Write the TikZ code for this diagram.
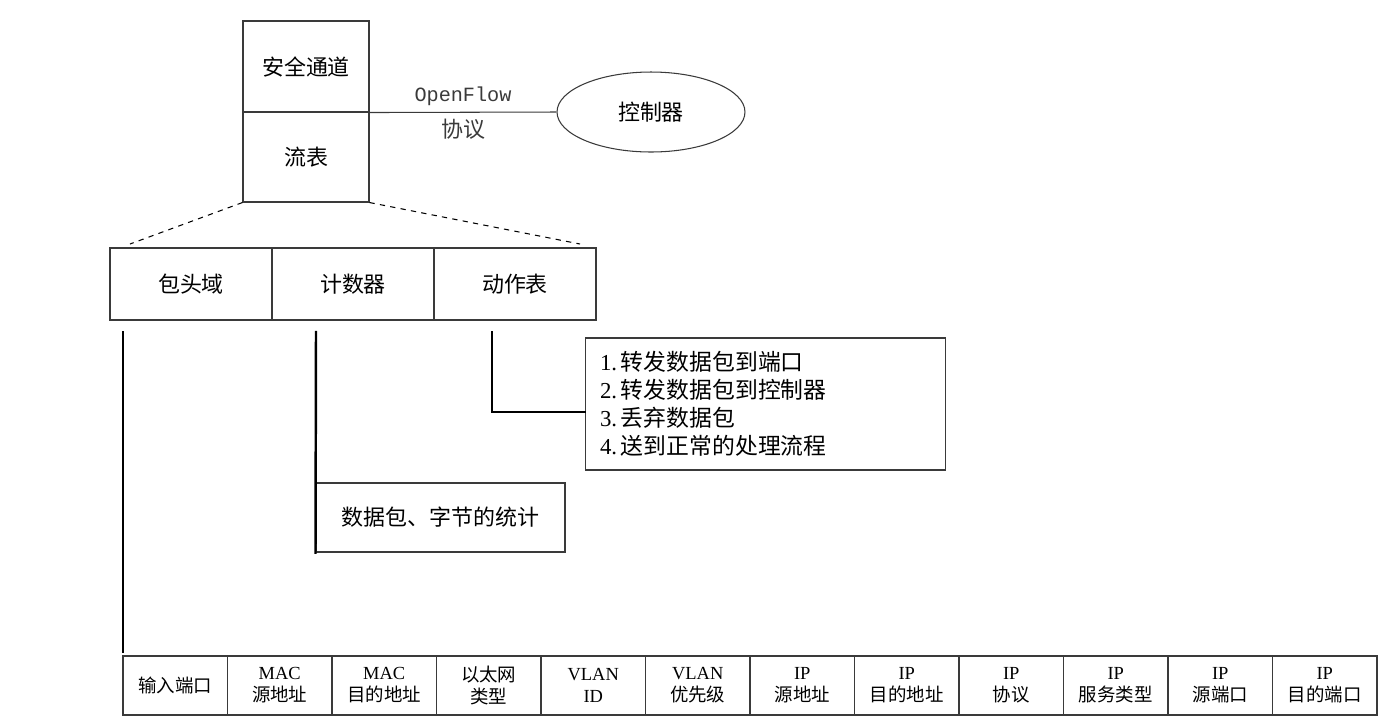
\documentclass[tikz,border=0pt]{standalone}
\usepackage{fontspec}
\setmainfont{Liberation Serif}
\setmonofont{Liberation Mono}
\newfontfamily\cjk{Noto Sans CJK SC}
\usetikzlibrary{shapes.geometric,positioning}
\definecolor{Edge}{HTML}{3A3A3A}
\tikzset{
  cell/.style={draw=Edge,line width=0.6pt,inner sep=0pt,align=center},
  field/.style={cell,minimum width=2.09cm,minimum height=1.18cm,font=\fontsize{10.5}{12.5}\selectfont},
  link/.style={line width=1.4pt,line cap=rect},
}

\begin{document}
\begin{tikzpicture}[x=0.02cm,y=-0.02cm,font=\fontsize{12.5}{15}\selectfont]
  \useasboundingbox (0,0) rectangle (1394,725);
  \node[cell,minimum width=2.52cm,minimum height=1.82cm] (chan) at (306,66.5) {\cjk 安全通道};
  \node[cell,minimum width=2.52cm,minimum height=1.80cm] (flow) at (306,157) {\cjk 流表};
  \node[draw=Edge,line width=0.6pt,ellipse,inner sep=0pt,minimum width=3.76cm,minimum height=1.6cm] (ctrl) at (651,112) {\cjk 控制器};
  \draw[Edge,line width=0.6pt] (chan.south east) -- (ctrl.west)
    node[midway,above=0pt,font=\fontsize{11.5}{14}\ttfamily] {OpenFlow} node[midway,below=0pt] {\cjk 协议};

  \foreach \n/\x/\t in {hdr/191/包头域,cnt/353/计数器,act/515/动作表}
    \node[cell,minimum width=3.24cm,minimum height=1.44cm] (\n) at (\x,284) {\cjk \t};
  \coordinate (dl) at (130,244);
  \coordinate (dr) at (580,244);
  \draw[dashed,line width=0.6pt] (flow.south west) -- (dl);
  \draw[dashed,line width=0.6pt] (flow.south east) -- (dr);

  \node[cell,minimum width=4.98cm,minimum height=1.38cm] (stat) at (440.5,517.5) {\cjk 数据包、字节的统计};
  \node[cell,text width=6.62cm,inner xsep=0.3cm,minimum height=2.64cm,align=left,
    font=\fontsize{13}{16}\selectfont] (acts) at (765.5,404)
    {1.\,{\cjk 转发数据包到端口}\\2.\,{\cjk 转发数据包到控制器}\\3.\,{\cjk 丢弃数据包}\\4.\,{\cjk 送到正常的处理流程}};

  \foreach \i/\t in {1/{{\cjk 输入端口}},2/{MAC\\{\cjk 源地址}},3/{MAC\\{\cjk 目的地址}},
      4/{{\cjk 以太网}\\{\cjk 类型}},5/{VLAN\\ID},6/{VLAN\\{\cjk 优先级}},7/{IP\\{\cjk 源地址}},
      8/{IP\\{\cjk 目的地址}},9/{IP\\{\cjk 协议}},10/{IP\\{\cjk 服务类型}},11/{IP\\{\cjk 源端口}},
      12/{IP\\{\cjk 目的端口}}}
    \node[field] (f\i) at ({123+104.5*(\i-0.5)},685.5) {\t};

  \coordinate (hdrtap) at (123,332);
  \coordinate (hdrend) at (123,652);
  \coordinate (cnttap) at (316,332);
  \coordinate (acttap) at (492,332);
  \coordinate (actend) at (585,412);
  \draw[link] (hdrtap) -- (hdrend);
  \draw[link] (cnttap) -- (stat.south west);
  \draw[link] (acttap) |- (actend);
\end{tikzpicture}
\end{document}
